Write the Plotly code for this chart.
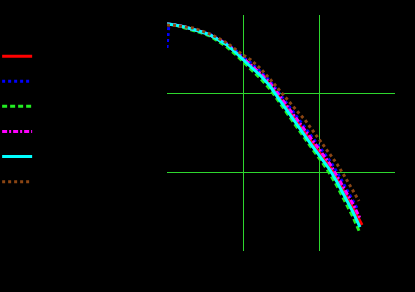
import plotly.graph_objects as go

# shared x positions (data units)
x_main = [0, 0.105, 0.237, 0.342, 0.461, 0.566, 0.671, 0.789, 0.895, 1.0, 1.105, 1.224,
          1.355, 1.474, 1.592, 1.711, 1.816, 1.921, 2.039, 2.145, 2.237, 2.342, 2.447]

red_x = x_main + [2.566]
red_y = [-0.114, -0.127, -0.153, -0.178, -0.216, -0.254, -0.318, -0.381, -0.470, -0.559, -0.648,
         -0.750, -0.890, -1.042, -1.208, -1.360, -1.500, -1.640, -1.792, -1.932, -2.085, -2.263,
         -2.453, -2.670]

blue_x = [0, 0.026] + x_main[1:] + [2.513]
blue_y = [-0.419, -0.114, -0.127, -0.153, -0.178, -0.216, -0.242, -0.305, -0.369, -0.445, -0.534,
          -0.610, -0.712, -0.839, -0.992, -1.144, -1.297, -1.424, -1.564, -1.716, -1.856, -1.996,
          -2.174, -2.352, -2.479]

green_x = x_main + [2.539]
green_y = [-0.114, -0.127, -0.165, -0.191, -0.229, -0.267, -0.331, -0.407, -0.496, -0.597, -0.699,
           -0.801, -0.941, -1.106, -1.271, -1.436, -1.576, -1.716, -1.869, -2.021, -2.174, -2.364,
           -2.568, -2.771]

magenta_x = x_main + [2.539]
magenta_y = [-0.114, -0.127, -0.153, -0.178, -0.216, -0.254, -0.305, -0.369, -0.458, -0.547, -0.636,
             -0.737, -0.864, -1.017, -1.170, -1.335, -1.462, -1.602, -1.754, -1.894, -2.047, -2.225,
             -2.403, -2.581]

cyan_x = x_main + [2.539]
cyan_y = [-0.114, -0.127, -0.153, -0.178, -0.216, -0.254, -0.318, -0.381, -0.470, -0.572, -0.661,
          -0.763, -0.903, -1.068, -1.233, -1.398, -1.538, -1.678, -1.831, -1.970, -2.123, -2.314,
          -2.504, -2.695]

brown_x = x_main + [2.526]
brown_y = [-0.127, -0.133, -0.153, -0.165, -0.203, -0.242, -0.292, -0.356, -0.432, -0.508, -0.572,
           -0.674, -0.814, -0.953, -1.081, -1.220, -1.335, -1.475, -1.627, -1.767, -1.894, -2.059,
           -2.225, -2.364]

series_names = ["s1", "s2", "s3", "s4", "s5", "s6"]

x_ticks = [1, 2, 3]
y_ticks = [-1, -2]

grid = "#2ed62e"

series = [
    (red_x, red_y, "#ff0000", None),
    (blue_x, blue_y, "#0000ff", "3px,3px"),
    (green_x, green_y, "#22ee22", "5px,3px"),
    (magenta_x, magenta_y, "#ff00ff", "5px,2px,2px,2px"),
    (cyan_x, cyan_y, "#00ffff", None),
    (brown_x, brown_y, "#8b4513", "3px,3px"),
]

fig = go.Figure()
for (xs, ys, col, dash), name in zip(series, series_names):
    line = dict(color=col, width=3)
    if dash:
        line["dash"] = dash
    fig.add_trace(go.Scatter(x=xs, y=ys, mode="lines", name=name, line=line))

fig.update_layout(
    width=415, height=292,
    margin=dict(l=167, r=20, t=15, b=41, autoexpand=False),
    paper_bgcolor="black", plot_bgcolor="black",
    showlegend=True,
    legend=dict(x=-0.745, xanchor="left", y=0.90, yanchor="top",
                bgcolor="rgba(0,0,0,0)", font=dict(color="black", size=17)),
    xaxis=dict(range=[0, 3], tickvals=x_ticks, showticklabels=False, showgrid=True,
               gridcolor=grid, gridwidth=1, zeroline=False, ticks="", automargin=False),
    yaxis=dict(range=[-3, 0], tickvals=y_ticks, showticklabels=False, showgrid=True,
               gridcolor=grid, gridwidth=1, zeroline=False, ticks="", automargin=False),
)

fig.write_html("out.html")
